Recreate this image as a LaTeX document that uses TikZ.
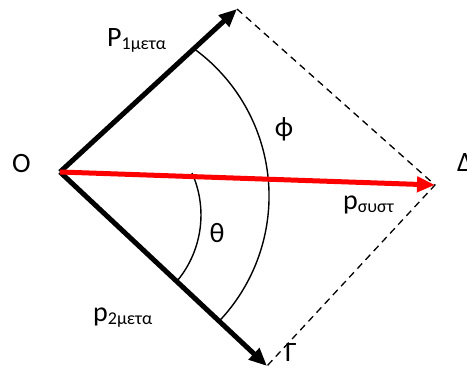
\documentclass[tikz,border=0pt]{standalone}
\usepackage{fontspec}
\setmainfont{Carlito}
\usetikzlibrary{arrows.meta}
\newcommand{\lbl}{\fontsize{28}{30}\selectfont}
\newcommand{\sublbl}[1]{\raisebox{-3pt}{\fontsize{18}{20}\selectfont #1}}
\begin{document}
\begin{tikzpicture}[x=1pt, y=1pt,
    vec/.style={line width=5pt, -{Triangle[length=18pt, width=15pt]}},
    sumvec/.style={vec, red},
    angarc/.style={line width=1.4pt},
    guide/.style={line width=1.3pt, dash pattern=on 7pt off 5pt}]
  \useasboundingbox (0,0) rectangle (467,369);

  % Points
  \coordinate (O) at (60,197);
  \coordinate (A) at (237,360);
  \coordinate (D) at (435,184);
  \coordinate (G) at (267,3);

  % Dashed sides
  \draw[guide] (A) -- (D) -- (G);

  % Angle arcs
  \draw[angarc] (195.3,319.3) arc[start angle=53.5, end angle=-43.9, radius=182];
  \draw[angarc] (192,196) arc[start angle=24.1, end angle=-39.1, radius=103];

  % Vectors
  \draw[vec] (O) -- (A);
  \draw[vec] (O) -- (G);
  \draw[sumvec] (O) -- (D);

  % Labels
  \node[anchor=base west, inner sep=0pt, font=\lbl] (lO) at (12,196) {O};
  \node[anchor=base west, inner sep=0pt, font=\lbl] (lD) at (457,197) {Δ};
  \node[anchor=base west, inner sep=0pt, font=\lbl] (lG) at (285,7) {Γ};
  \node[anchor=base west, inner sep=0pt, font=\lbl] (lP1) at (107,322) {P\sublbl{1μετα}};
  \node[anchor=base west, inner sep=0pt, font=\lbl] (lP2) at (93,47) {p\sublbl{2μετα}};
  \node[anchor=base west, inner sep=0pt, font=\lbl] (lPs) at (343,159) {p\sublbl{συστ}};
  \node[font=\lbl] (lphi) at (284,240) {ϕ};
  \node[font=\lbl] (lth) at (217,136) {θ};
\end{tikzpicture}
\end{document}
